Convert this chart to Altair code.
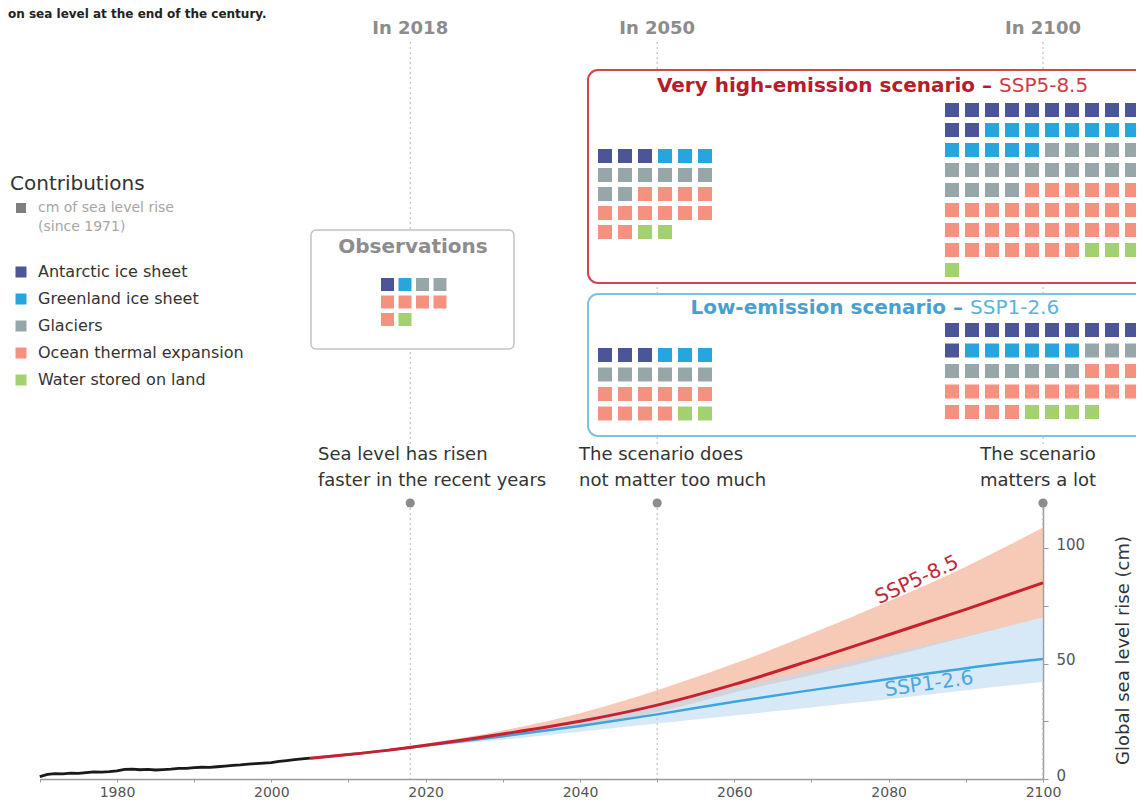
import altair as alt
import pandas as pd

FONT = "DejaVu Sans"

# ---------------- data ----------------
obs_years = list(range(1970, 2006))
obs_cm = [1.0, 2.0, 2.3, 2.2, 2.5, 2.4, 2.8, 3.1, 3.0, 3.2, 3.5, 4.2, 4.3, 4.0,
          4.2, 3.9, 4.1, 4.3, 4.6, 4.6, 4.9, 5.1, 5.0, 5.3, 5.6, 5.9, 6.1, 6.4,
          6.7, 6.9, 7.1, 7.6, 8.0, 8.4, 8.7, 9.0]

proj_years = [2005, 2010, 2015, 2020, 2030, 2040, 2050, 2060, 2070, 2080, 2090, 2100]
ssp585_med = [9.0, 10.6, 12.4, 14.6, 19.5, 25.0, 32.0, 41.0, 51.5, 62.5, 73.5, 85.0]
ssp585_lo = [9.0, 10.4, 12.1, 14.0, 18.0, 23.0, 29.0, 37.5, 45.0, 53.0, 61.5, 70.0]
ssp585_hi = [9.0, 10.8, 12.8, 15.3, 21.0, 28.5, 38.5, 50.0, 63.0, 77.0, 92.0, 109.0]
ssp126_med = [9.0, 10.6, 12.4, 14.5, 18.5, 23.0, 28.0, 33.5, 38.5, 43.3, 48.0, 52.0]
ssp126_lo = [9.0, 10.4, 12.0, 13.9, 17.0, 20.5, 24.0, 27.5, 31.0, 34.5, 38.5, 42.0]
ssp126_hi = [9.0, 10.8, 12.7, 15.0, 20.0, 26.0, 33.0, 40.0, 47.0, 54.5, 62.0, 70.0]

categories = ["Antarctic ice sheet", "Greenland ice sheet", "Glaciers",
              "Ocean thermal expansion", "Water stored on land"]
cat_colors = ["#4b5597", "#27a6de", "#97a6a8", "#f4917f", "#a3d16f"]

# cm of sea level rise per contribution (one square = 1 cm)
obs_2018 = [1, 1, 2, 5, 1]
ssp585_2050 = [3, 3, 8, 12, 2]
ssp585_2100 = [12, 13, 19, 33, 4]
ssp126_2050 = [3, 3, 6, 10, 2]
ssp126_2100 = [11, 6, 10, 17, 4]

milestone_years = [2018, 2050, 2100]
milestone_heads = ["In 2018", "In 2050", "In 2100"]
note_2018 = ["Sea level has risen", "faster in the recent years"]
note_2050 = ["The scenario does", "not matter too much"]
note_2100 = ["The scenario", "matters a lot"]

# ---------------- layout (chart pixel space) ----------------
W, H = 1035, 771           # plot area: x axis at bottom, y axis at right
X0, X1 = 31.8, 1035.0      # 1970 .. 2100
Y0, Y120 = 771.0, 494.0    # 0 cm .. 120 cm

one = pd.DataFrame({"k": [0]})

xs = alt.Scale(domain=[1970, 2100], range=[X0, X1], nice=False, zero=False)
ys = alt.Scale(domain=[0, 120], range=[Y0, Y120], nice=False, zero=False)
color_scale = alt.Scale(domain=categories, range=cat_colors)

proj = pd.DataFrame({
    "year": proj_years,
    "med585": ssp585_med, "lo585": ssp585_lo, "hi585": ssp585_hi,
    "med126": ssp126_med, "lo126": ssp126_lo, "hi126": ssp126_hi,
})
obs = pd.DataFrame({"year": obs_years, "cm": obs_cm})
ms = pd.DataFrame({"year": milestone_years, "head": milestone_heads})

xaxis = alt.Axis(values=list(range(1970, 2101, 10)), format="d",
                 labelExpr="datum.value % 20 == 0 ? datum.label : ''",
                 title=None, grid=False, domainColor="#9a9a9a", domainWidth=1.5,
                 tickColor="#9a9a9a", tickSize=3, labelColor="#555555",
                 labelFontSize=14, labelFont=FONT, labelPadding=3,
                 labelFlush=False, labelOverlap=False)
yaxis = alt.Axis(orient="right", values=[0, 25, 50, 75, 100],
                 labelExpr="datum.value % 50 == 0 ? datum.label : ''",
                 title="Global sea level rise (cm)", titleFont=FONT,
                 titleFontSize=18, titleFontWeight="normal", titleColor="#333333",
                 titleAngle=270, titleX=80, titleY=642, titleAlign="center",
                 titleBaseline="middle", grid=False, domainColor="#9a9a9a",
                 domainWidth=1.5, tickColor="#9a9a9a", tickSize=5,
                 labelColor="#555555", labelFontSize=15, labelFont=FONT,
                 labelPadding=8, labelOffset=-4, labelFlush=False)

XE = alt.X("year:Q", scale=xs, axis=xaxis, title=None)


def YE(field):
    return alt.Y(field, scale=ys, axis=yaxis, title="Global sea level rise (cm)")


rule_top = alt.Chart(ms).mark_rule(color="#b3b3b3", strokeDash=[2, 3], strokeWidth=1).encode(
    x=XE, y=alt.value(34), y2=alt.value(437))
rule_bot = alt.Chart(ms).mark_rule(color="#b3b3b3", strokeDash=[2, 3], strokeWidth=1).encode(
    x=XE, y=alt.value(495), y2=alt.value(771))
heads = alt.Chart(ms).mark_text(font=FONT, fontSize=18, fontWeight="bold", color="#8c8c8c",
                                align="center", baseline="middle").encode(
    x=XE, y=alt.value(21), text="head:N")
dots = alt.Chart(ms).mark_circle(size=85, color="#8c8c8c", opacity=1).encode(
    x=XE, y=alt.value(495))

band585 = alt.Chart(proj).mark_area(color="#f4b49b", opacity=0.72, interpolate="monotone").encode(
    x=XE, y=YE("lo585:Q"), y2="hi585:Q")
band126 = alt.Chart(proj).mark_area(color="#bcdaf2", opacity=0.6, interpolate="monotone").encode(
    x=XE, y=YE("lo126:Q"), y2="hi126:Q")
line126 = alt.Chart(proj).mark_line(color="#3da5db", strokeWidth=2.5, interpolate="monotone").encode(
    x=XE, y=YE("med126:Q"))
line585 = alt.Chart(proj).mark_line(color="#c9202f", strokeWidth=3, interpolate="monotone").encode(
    x=XE, y=YE("med585:Q"))
obs_line = alt.Chart(obs).mark_line(color="#1a1a1a", strokeWidth=2.8).encode(
    x=XE, y=YE("cm:Q"))

main = alt.layer(rule_top, rule_bot, band585, band126, line126, line585, obs_line, heads, dots)


def label(text, x, y, size=16, color="#333333", weight="normal", align="left", angle=None):
    props = dict(text=text, font=FONT, fontSize=size, color=color, fontWeight=weight,
                 align=align, baseline="middle")
    if angle is not None:
        props["angle"] = angle
    return alt.Chart(one).mark_text(**props).encode(x=alt.value(x), y=alt.value(y))


def box(x, x2, y, y2, stroke, sw, r):
    return alt.Chart(one).mark_rect(fill="white", stroke=stroke, strokeWidth=sw,
                                    cornerRadius=r).encode(
        x=alt.value(x), x2=alt.value(x2), y=alt.value(y), y2=alt.value(y2))


def waffle(counts, ncols, x0, y0, px, py, side):
    rows = []
    i = 0
    for cat, n in zip(categories, counts):
        for _ in range(n):
            rows.append({"cat": cat, "col": i % ncols, "row": i // ncols})
            i += 1
    df = pd.DataFrame(rows)
    nrows = max(df["row"].max(), 1)
    return alt.Chart(df).mark_square(size=side * side, opacity=1).encode(
        x=alt.X("col:Q", scale=alt.Scale(domain=[0, ncols - 1], range=[x0, x0 + (ncols - 1) * px],
                                         nice=False, zero=False), axis=None),
        y=alt.Y("row:Q", scale=alt.Scale(domain=[0, nrows], range=[y0, y0 + nrows * py],
                                         nice=False, zero=False), axis=None),
        color=alt.Color("cat:N", scale=color_scale, legend=None))


legend_df = pd.DataFrame({"cat": categories})
legend_y = alt.Scale(type="point", domain=categories, range=[264, 372], padding=0)
legend_sq = alt.Chart(legend_df).mark_square(size=121, opacity=1).encode(
    x=alt.value(13), y=alt.Y("cat:N", scale=legend_y, axis=None),
    color=alt.Color("cat:N", scale=color_scale, legend=None))
legend_tx = alt.Chart(legend_df).mark_text(font=FONT, fontSize=16, color="#333333",
                                           align="left", baseline="middle").encode(
    x=alt.value(30), y=alt.Y("cat:N", scale=legend_y, axis=None), text="cat:N")
unit_sq = alt.Chart(one).mark_square(size=100, opacity=1, color="#7f7f7f").encode(
    x=alt.value(13), y=alt.value(200))

layers = [
    main,
    box(303, 506, 222, 341, "#c4c4c4", 1.5, 5),
    box(580, 1142, 62, 275, "#d6434c", 2, 10),
    box(580, 1142, 286, 428, "#7cc3de", 2, 10),
    waffle(obs_2018, 4, 379.5, 276.5, 17.5, 17.5, 13),
    waffle(ssp585_2050, 6, 597, 148, 20, 19, 14),
    waffle(ssp585_2100, 10, 944, 102, 20, 20, 14),
    waffle(ssp126_2050, 6, 597, 347, 20, 19.5, 14),
    waffle(ssp126_2100, 10, 944, 322, 20, 20.5, 14),
    label("Observations", 405, 239, 20, "#8d8d8d", "bold", "center"),
    label("Very high-emission scenario \u2013", 984, 78, 20, "#b71c2c", "bold", "right"),
    label("SSP5-8.5", 991, 78, 20, "#d33a47", "normal", "left"),
    label("Low-emission scenario \u2013", 955, 300, 20, "#4aa0cc", "bold", "right"),
    label("SSP1-2.6", 962, 300, 20, "#5bb4dc", "normal", "left"),
    label(note_2018[0], 310, 447, 18),
    label(note_2018[1], 310, 473, 18),
    label(note_2050[0], 571, 447, 18),
    label(note_2050[1], 571, 473, 18),
    label(note_2100[0], 1030, 447, 18, align="center"),
    label(note_2100[1], 1030, 473, 18, align="center"),
    label("SSP5-8.5", 909, 572, 20, "#c22a3b", "normal", "center", 335),
    label("SSP1-2.6", 921, 676, 20, "#4aa8dc", "normal", "center", 352),
    label("Contributions", 2, 176, 20),
    unit_sq,
    label("cm of sea level rise", 30, 200, 14, "#a6a6a6"),
    label("(since 1971)", 30, 219, 14, "#a6a6a6"),
    legend_sq,
    legend_tx,
    label("on sea level at the end of the century.", 0, 6, 12, "#222222", "bold"),
]

chart = alt.layer(*layers).resolve_scale(x="independent", y="independent").properties(
    width=W, height=H,
    autosize=alt.AutoSizeParams(type="none"),
    padding={"left": 0, "top": 0, "right": 93, "bottom": 21},
    background="white",
).configure_view(stroke=None)

chart.save("out.html", embed_options={"renderer": "svg", "actions": False})
